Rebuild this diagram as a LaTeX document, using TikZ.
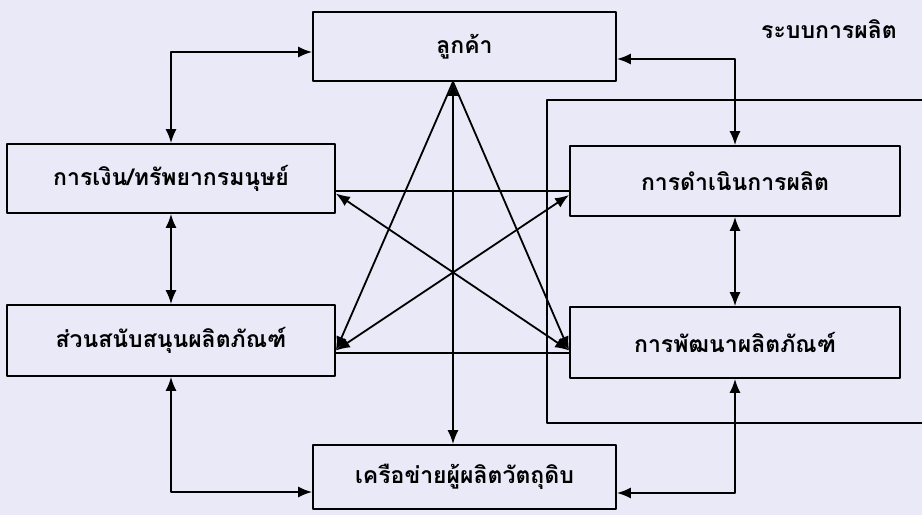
\documentclass[tikz,border=0pt]{standalone}
\usepackage{fontspec}
\newfontfamily\thaifont[Script=Thai]{Loma}
\usetikzlibrary{arrows.meta}
\definecolor{paper}{RGB}{233,233,247}
\begin{document}
\begin{tikzpicture}[x=1pt,y=-1pt,line width=1.8pt,>={Latex[length=14pt,width=11pt]},
  line cap=round,line join=round,font=\thaifont\bfseries\fontsize{23}{28}\selectfont,
  unit/.style={draw,minimum width=#1,inner sep=0pt},
  unit/.default=328pt]
  \fill[paper] (0,0) rectangle (922,515);
  \useasboundingbox (0,0) rectangle (922,515);
  % boxes
  \node[unit=303pt,minimum height=69pt] (cust) at (464.5,46.5) {ลูกค้า};
  \node[unit,minimum height=69pt] (fin) at (171,178.5) {การเงิน/ทรัพยากรมนุษย์};
  \node[unit,minimum height=71pt] (supp) at (171,340.5) {ส่วนสนับสนุนผลิตภัณฑ์};
  \node[unit=330pt,minimum height=70pt] (oper) at (735,181) {การดำเนินการผลิต};
  \node[unit=330pt,minimum height=71pt] (devt) at (735,342.5) {การพัฒนาผลิตภัณฑ์};
  \node[unit=303pt,minimum height=64pt] (netw) at (464.5,477) {เครือข่ายผู้ผลิตวัตถุดิบ};
  % production system frame
  \draw (925,100) -| (547,423) -- (925,423);
  \node (sys) at (829,29) {ระบบการผลิต};
  % outer links
  \draw[<->] ([yshift=-5.5pt]cust.west) -| (fin.north);
  \draw[<->] ([yshift=-12.5pt]cust.east) -| (oper.north);
  \draw[<->] (fin.south) -- (supp.north);
  \draw[<->] (oper.south) -- (devt.north);
  \draw[<->] (supp.south) |- ([yshift=-15pt]netw.west);
  \draw[<->] (devt.south) |- ([yshift=-16pt]netw.east);
  % inner star
  \coordinate (apex) at ([xshift=-11.5pt]cust.south);
  \draw[<->] (apex) -- ([xshift=-11.5pt]netw.north);
  \draw[->] (apex) -- ([yshift=-10pt]supp.east);
  \draw[->] (apex) -- ([yshift=-8pt]devt.west);
  \draw ([yshift=-12.5pt]fin.east) -- ([yshift=-10pt]oper.west);
  \draw ([yshift=-12.5pt]supp.east) -- ([yshift=-10.5pt]devt.west);
  \draw[<->] ([yshift=-15pt]fin.east) -- ([yshift=-8pt]devt.west);
  \draw[<->] ([yshift=-14pt]oper.west) -- ([yshift=-10pt]supp.east);
\end{tikzpicture}
\end{document}
